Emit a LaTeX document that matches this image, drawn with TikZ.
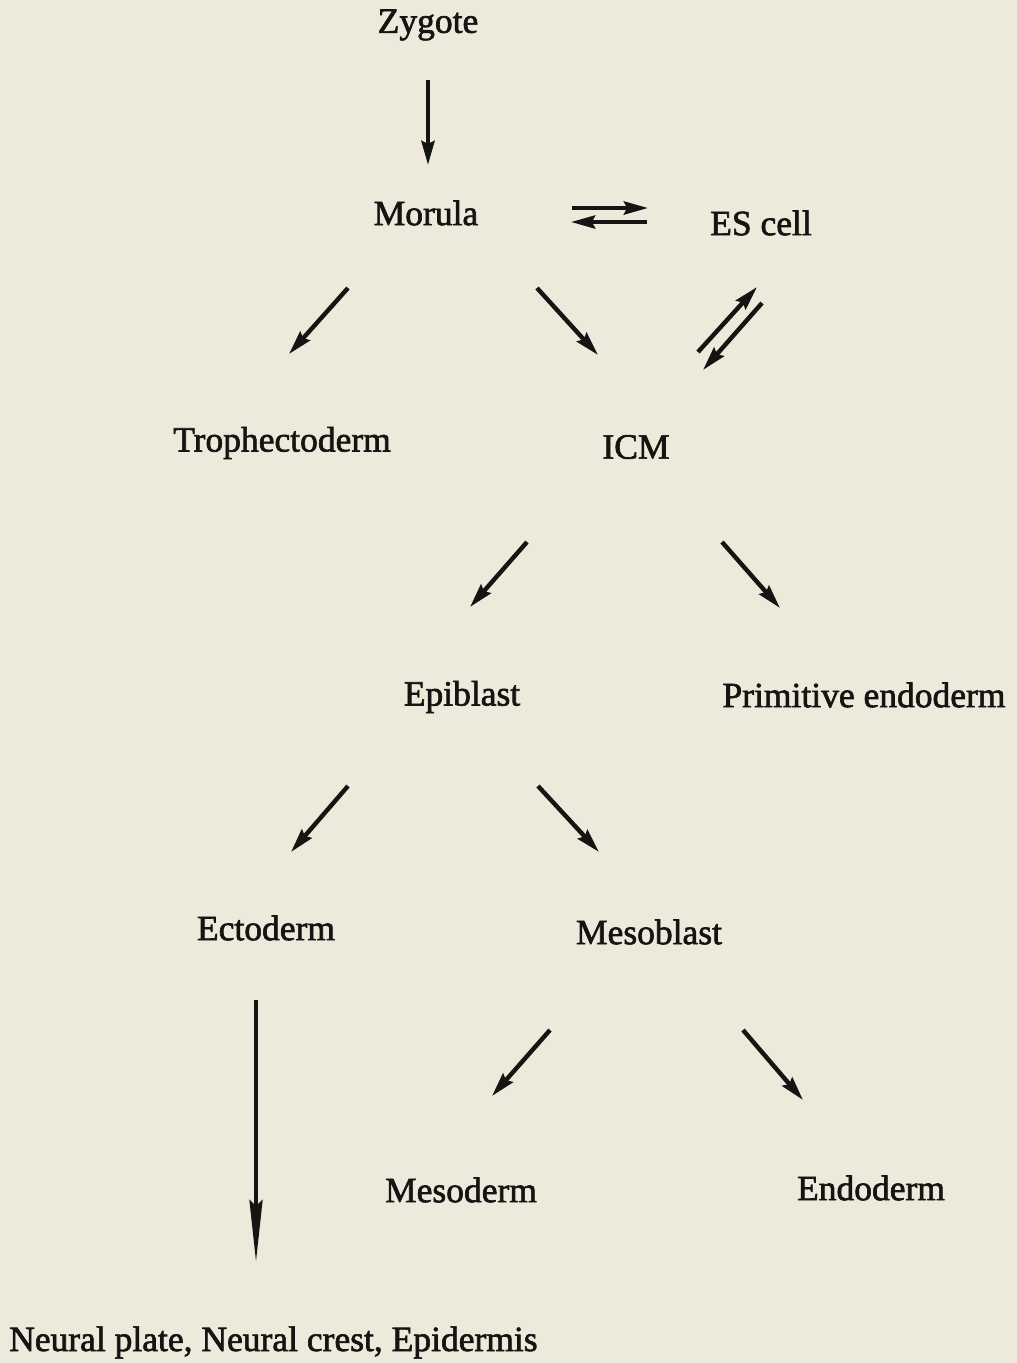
\documentclass[tikz,border=0pt]{standalone}
\usepackage{fontspec}
\setmainfont{Liberation Serif}
\newfontfamily\labelfont{Liberation Serif}[FakeBold=1.8]
\usetikzlibrary{arrows.meta}
\definecolor{paper}{RGB}{237,233,219}
\definecolor{ink}{RGB}{20,20,18}
\begin{document}
\begin{tikzpicture}[x=1pt,y=-1pt,
  label/.style={inner sep=0pt,text=ink,font=\labelfont\fontsize{35.5}{40}\selectfont},
  flow/.style={draw=ink,line width=4.4pt,
    -{Stealth[length=24pt,width=13pt,inset=3pt]}},
  longflow/.style={draw=ink,line width=4.4pt,
    -{Stealth[length=62pt,width=13pt,inset=6pt]}}]
\fill[paper] (0,0) rectangle (1017,1363);
\useasboundingbox (0,0) rectangle (1017,1363);

% stage labels
\node[label] (zyg)  at (428,25)   {Zygote};
\node[label] (mor)  at (426,213)  {Morula};
\node[label] (es)   at (761,223)  {ES cell};
\node[label] (tro)  at (282,443)  {Trophectoderm};
\node[label] (icm)  at (636,447)  {ICM};
\node[label] (epi)  at (462,697)  {Epiblast};
\node[label] (pen)  at (864,695)  {Primitive endoderm};
\node[label] (ect)  at (266,928)  {Ectoderm};
\node[label] (mbl)  at (649,932)  {Mesoblast};
\node[label] (mes)  at (461,1190) {Mesoderm};
\node[label] (end)  at (871,1188) {Endoderm};
\node[label,anchor=base west]
  (neu) at (9,1351) {Neural plate, Neural crest, Epidermis};

% arrow end points
\coordinate (zyg-s) at (428,80);   \coordinate (mor-n) at (428,165);
\coordinate (me-a)  at (572,208);  \coordinate (me-b)  at (648,208);
\coordinate (em-a)  at (647,222);  \coordinate (em-b)  at (571,222);
\coordinate (mt-a)  at (348,288);  \coordinate (mt-b)  at (289,354);
\coordinate (mi-a)  at (537,288);  \coordinate (mi-b)  at (598,355);
\coordinate (ie-a)  at (698,352);  \coordinate (ie-b)  at (757,287);
\coordinate (ei-a)  at (762,303);  \coordinate (ei-b)  at (703,370);
\coordinate (ip-a)  at (527,542);  \coordinate (ip-b)  at (470,607);
\coordinate (iq-a)  at (722,542);  \coordinate (iq-b)  at (780,608);
\coordinate (ec-a)  at (348,786);  \coordinate (ec-b)  at (291,852);
\coordinate (em2-a) at (538,786);  \coordinate (em2-b) at (599,852);
\coordinate (ne-a)  at (256,1000); \coordinate (ne-b)  at (256,1262);
\coordinate (md-a)  at (550,1030); \coordinate (md-b)  at (492,1096);
\coordinate (en-a)  at (743,1030); \coordinate (en-b)  at (803,1100);

% connectors
\draw[flow] (zyg-s) -- (mor-n);
\draw[flow,line width=4pt] (me-a) -- (me-b);
\draw[flow,line width=4pt] (em-a) -- (em-b);
\draw[flow] (mt-a) -- (mt-b);
\draw[flow] (mi-a) -- (mi-b);
\draw[flow] (ie-a) -- (ie-b);
\draw[flow] (ei-a) -- (ei-b);
\draw[flow] (ip-a) -- (ip-b);
\draw[flow] (iq-a) -- (iq-b);
\draw[flow] (ec-a) -- (ec-b);
\draw[flow] (em2-a) -- (em2-b);
\draw[longflow] (ne-a) -- (ne-b);
\draw[flow] (md-a) -- (md-b);
\draw[flow] (en-a) -- (en-b);
\end{tikzpicture}
\end{document}
